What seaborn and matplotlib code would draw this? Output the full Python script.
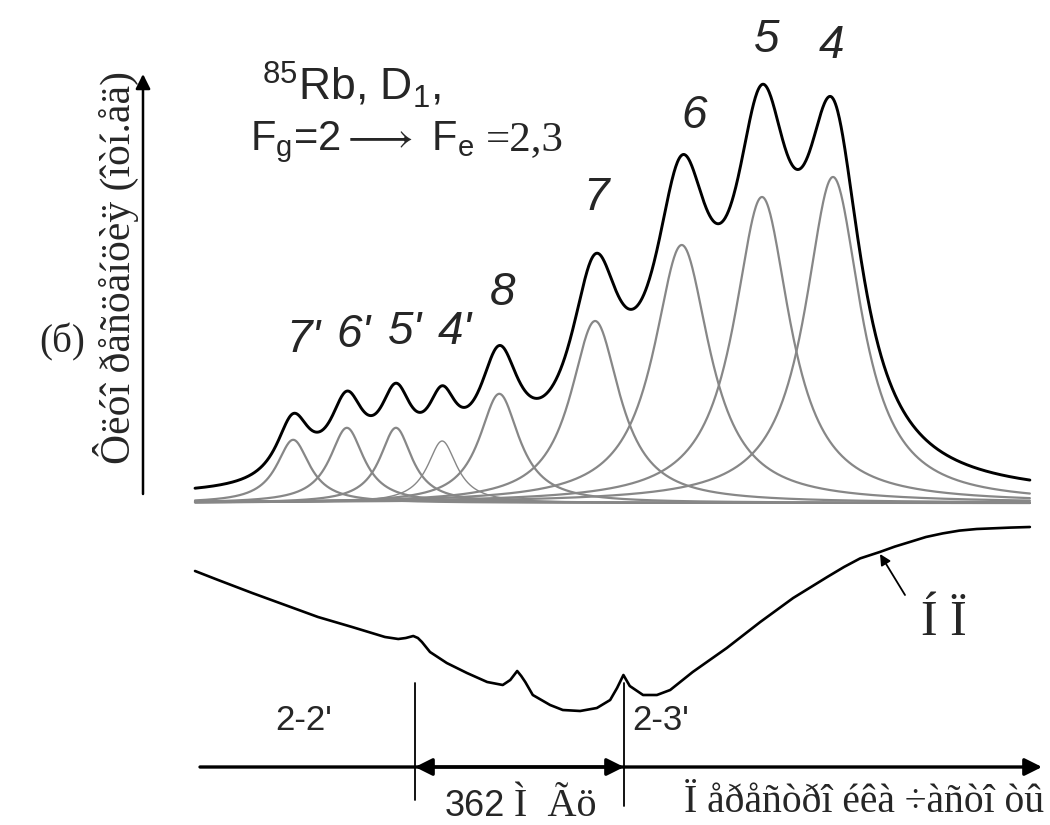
import numpy as np
import pandas as pd
import matplotlib
matplotlib.use("Agg")
import matplotlib.pyplot as plt
import matplotlib.transforms as mtransforms
import seaborn as sns

# ---------------- data ----------------
# Lorentzian components of the fluorescence spectrum (85Rb D1, Fg=2 -> Fe=2,3)
peak_labels = ["7'", "6'", "5'", "4'", "8", "7", "6", "5", "4"]
peak_center_mhz = [-211, -118, -33, 47, 146, 312, 462, 601, 724]
peak_hwhm_mhz = [35, 36, 34, 31, 42, 52, 59, 59, 59]
peak_height = [0.158, 0.188, 0.188, 0.155, 0.273, 0.455, 0.645, 0.765, 0.815]
fluor_offset = 0.012
scan_start_mhz = -381
scan_stop_mhz = 1065

# hyperfine transitions marked under the absorption curve
transition_labels = ["2-2'", "2-3'"]
transition_mhz = [0, 362]
splitting_label = "362"
splitting_unit = "Ì  Ãö"

# absorption (transmission) reference signal, "ÍÏ"
abs_freq_mhz = [-381, -341, -282, -225, -168, -109, -52, -29, -16, -3, 5, 12, 26,
                55, 90, 125, 152, 165, 177, 184, 191, 204, 234, 256, 286, 315,
                338, 350, 361, 367, 372, 395, 419, 442, 481, 540, 598, 655, 714,
                743, 771, 805, 831, 857, 885, 914, 943, 973, 1031, 1065]
abs_signal = [0.745, 0.700, 0.635, 0.575, 0.515, 0.465, 0.415, 0.405, 0.410, 0.420,
              0.410, 0.390, 0.340, 0.285, 0.235, 0.190, 0.175, 0.200, 0.245, 0.220,
              0.190, 0.125, 0.075, 0.050, 0.045, 0.060, 0.100, 0.160, 0.225, 0.195,
              0.170, 0.125, 0.125, 0.150, 0.240, 0.360, 0.490, 0.610, 0.715, 0.765,
              0.808, 0.840, 0.867, 0.890, 0.915, 0.933, 0.947, 0.955, 0.962, 0.965]

ylabel_text = "Ôëóî ðåñöåíöèÿ (îòí.åä)"
xlabel_text = "Ï åðåñòðî éêà ÷àñòî òû"
panel_label = "(б)"
abs_label = "Í Ï"

# ---------------- styling ----------------
sns.set_style("white")
plt.rcParams["font.family"] = ["Liberation Sans", "DejaVu Sans"]
plt.rcParams["mathtext.fontset"] = "custom"
plt.rcParams["mathtext.rm"] = "Liberation Sans"
plt.rcParams["mathtext.it"] = "Liberation Sans:italic"
plt.rcParams["mathtext.bf"] = "Liberation Sans:bold"

W, H = 1050, 825
fig = plt.figure(figsize=(W / 100, H / 100), dpi=100)
fig.patch.set_facecolor("white")

# overlay axes in pixel-like layout units (texts, arrows)
ax_px = fig.add_axes([0, 0, 1, 1])
ax_px.set_xlim(0, W)
ax_px.set_ylim(H, 0)
ax_px.axis("off")

# frequency mapping: 2-2' line at x=415 px, 362 MHz = 209 px
k = 362 / 209
x0_px = 415
xlim_mhz = ((0 - x0_px) * k, (W - x0_px) * k)

# fluorescence axes
ax_f = fig.add_axes([0, 0, 1, 1])
ax_f.set_xlim(*xlim_mhz)
ax_f.set_ylim(-(H - 503) / 400, 503 / 400)
ax_f.axis("off")
ax_f.patch.set_alpha(0)

# absorption axes
ax_a = fig.add_axes([0, 0, 1, 1])
ax_a.set_xlim(*xlim_mhz)
ax_a.set_ylim((720 - H) / 200, 720 / 200)
ax_a.axis("off")
ax_a.patch.set_alpha(0)

# ---------------- fluorescence curves ----------------
f = np.linspace(scan_start_mhz, scan_stop_mhz, 1500)
total = np.full_like(f, fluor_offset, dtype=float)
comp_frames = []
for lab, c, w, h in zip(peak_labels, peak_center_mhz, peak_hwhm_mhz, peak_height):
    comp = h * w ** 2 / ((f - c) ** 2 + w ** 2)
    total += comp
    comp_frames.append(pd.DataFrame({"freq": f, "I": comp, "peak": lab}))
comps = pd.concat(comp_frames, ignore_index=True)

for lab in peak_labels:
    d = comps[comps["peak"] == lab]
    sns.lineplot(data=d, x="freq", y="I", ax=ax_f, color="#878787",
                 lw=1.0 if lab == "4'" else 1.6, legend=False, sort=False)

sns.lineplot(x=f, y=total, ax=ax_f, color="black", lw=2.1, sort=False)

# peak labels
label_pos_px = [(303, 340), (354, 335), (405, 332), (455, 332), (503, 293),
                (596, 198), (694, 116), (767, 40), (831, 46)]
for lab, (px, py) in zip(peak_labels, label_pos_px):
    ax_px.text(px, py, lab, fontsize=33, style="italic", ha="center", va="center",
               family="Liberation Sans")

# ---------------- absorption curve ----------------
sns.lineplot(x=abs_freq_mhz, y=abs_signal, ax=ax_a, color="black", lw=1.9, sort=False)

# ---------------- axes arrows, markers ----------------
ax_px.annotate("", xy=(143, 74), xytext=(143, 494),
               arrowprops=dict(arrowstyle="-|>", lw=1.8, color="black",
                               mutation_scale=22, shrinkA=0, shrinkB=0))
ax_px.annotate("", xy=(1042, 767), xytext=(200, 767),
               arrowprops=dict(arrowstyle="-|>", lw=2.4, color="black",
                               mutation_scale=26, shrinkA=0, shrinkB=0))

blend = mtransforms.blended_transform_factory(ax_f.transData, ax_px.transData)
tick_bottoms = [800, 806]
for xm, yb in zip(transition_mhz, tick_bottoms):
    ax_f.plot([xm, xm], [683, yb], transform=blend, color="black", lw=1.3)
ax_f.annotate("", xy=(transition_mhz[0], 767), xycoords=blend,
              xytext=(transition_mhz[1], 767), textcoords=blend,
              arrowprops=dict(arrowstyle="<|-|>", lw=2.4, color="black",
                              mutation_scale=26, shrinkA=0, shrinkB=0))

ax_px.text(332, 721, transition_labels[0], ha="right", va="center", fontsize=25,
           family="Liberation Sans")
ax_px.text(632, 721, transition_labels[1], ha="left", va="center", fontsize=25,
           family="Liberation Sans")

# splitting label
ax_px.text(445, 816, splitting_label, fontsize=26, ha="left", va="baseline",
           family="Liberation Sans")
ax_px.text(514, 816, splitting_unit, fontsize=29, ha="left", va="baseline",
           family="Liberation Serif")

# x label
ax_px.text(684, 812, xlabel_text, fontsize=28.5, ha="left", va="baseline",
           family="Liberation Serif")

# y label
ax_px.text(116, 268, ylabel_text, fontsize=30, rotation=90, ha="center", va="center",
           family="Liberation Serif")

# panel label
ax_px.text(62, 342, panel_label, fontsize=28, ha="center", va="center",
           family="Liberation Serif")

# absorption label with arrow
ax_px.annotate("", xy=(880, 554), xytext=(905, 595),
               arrowprops=dict(arrowstyle="-|>", lw=1.3, color="black",
                               mutation_scale=16, shrinkA=0, shrinkB=0))
ax_px.text(944, 623, abs_label, fontsize=36, ha="center", va="center",
           family="Liberation Serif")

# title-like annotation
ax_px.text(262, 101, r"$^{85}$Rb, D$_{1}$,", fontsize=32, ha="left", va="baseline",
           family="Liberation Sans")
ax_px.text(250, 150, r"F$_{\mathrm{g}}$=2$\longrightarrow$ F$_{\mathrm{e}}$",
           fontsize=30, ha="left", va="baseline", family="Liberation Sans")
ax_px.text(486, 150, "=2,3", fontsize=31, ha="left", va="baseline",
           family="Liberation Serif")

fig.savefig("out.png", dpi=100, facecolor="white")
